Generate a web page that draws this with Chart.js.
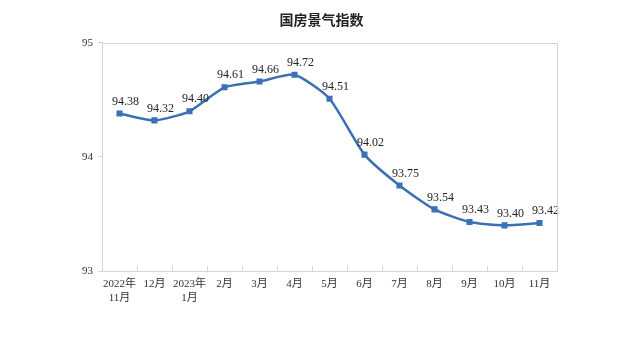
<!DOCTYPE html>
<html>
<head>
<meta charset="utf-8">
<script src="https://cdn.jsdelivr.net/npm/chart.js@4"></script>
<style>
  html, body { margin: 0; padding: 0; background: #fff; }
  #wrap { width: 643px; height: 344px; }
</style>
</head>
<body>
<div id="wrap"><canvas id="chart" width="643" height="344"></canvas></div>
<script>
// 月份
const months = [
    ['2022年', '11月'], '12月', ['2023年', '1月'], '2月', '3月', '4月',
    '5月', '6月', '7月', '8月', '9月', '10月', '11月'
];
// 国房景气指数
const indexValues = [94.38, 94.32, 94.40, 94.61, 94.66, 94.72, 94.51, 94.02, 93.75, 93.54, 93.43, 93.40, 93.42];
const yTicks = [93, 94, 95];

const serif = '"Liberation Serif", "Times New Roman", "Noto Sans CJK SC", serif';
const lineColor = '#3b6fb6';

// 画框（上、右边框）
const frame = {
    id: 'frame',
    afterDraw(chart) {
        const { ctx, chartArea: a } = chart;
        ctx.save();
        ctx.strokeStyle = '#d4d4d4';
        ctx.lineWidth = 1;
        ctx.strokeRect(Math.round(a.left) + 0.5, Math.round(a.top) + 0.5, Math.round(a.right - a.left), Math.round(a.bottom - a.top));
        ctx.restore();
    }
};

// 数据标签
const valueLabels = {
    id: 'valueLabels',
    afterDatasetsDraw(chart) {
        const { ctx } = chart;
        const meta = chart.getDatasetMeta(0);
        ctx.save();
        ctx.fillStyle = '#222';
        ctx.font = '12px ' + serif;
        ctx.textAlign = 'center';
        ctx.textBaseline = 'middle';
        meta.data.forEach((pt, i) => {
            ctx.fillText(indexValues[i].toFixed(2), pt.x + 6, pt.y - 12);
        });
        ctx.restore();
    }
};

new Chart(document.getElementById('chart'), {
    type: 'line',
    data: {
        labels: months,
        datasets: [{
            label: '国房景气指数',
            data: indexValues,
            borderColor: lineColor,
            backgroundColor: lineColor,
            borderWidth: 2.5,
            tension: 0.2,
            pointStyle: 'rect',
            pointRadius: 2.5,
            pointHoverRadius: 2.5
        }]
    },
    options: {
        responsive: false,
        animation: false,
        scales: {
            x: {
                offset: true,
                grid: {
                    offset: true,
                    drawOnChartArea: false,
                    tickLength: -5,
                    color: '#d4d4d4'
                },
                border: { color: '#d4d4d4' },
                ticks: {
                    color: '#333',
                    maxRotation: 0,
                    autoSkip: false,
                    padding: 12,
                    font: { family: serif, size: 11, lineHeight: 1.2 }
                },
                afterFit(scale) { scale.height = 73; }
            },
            y: {
                min: 93,
                max: 95,
                afterBuildTicks(scale) { scale.ticks = yTicks.map(v => ({ value: v })); },
                grid: {
                    drawOnChartArea: false,
                    tickLength: 4,
                    color: '#d4d4d4'
                },
                border: { color: '#d4d4d4' },
                ticks: {
                    color: '#333',
                    padding: 5,
                    font: { family: serif, size: 11 }
                },
                afterFit(scale) { scale.width = 102; }
            },
            // 右侧留白
            yRight: {
                position: 'right',
                min: 93,
                max: 95,
                grid: { display: false },
                border: { display: false },
                ticks: { display: false },
                afterFit(scale) { scale.width = 86; }
            }
        },
        plugins: {
            legend: { display: false },
            tooltip: { enabled: false },
            title: {
                display: true,
                text: '国房景气指数',
                color: '#222',
                font: { family: '"Noto Sans CJK SC", sans-serif', size: 14, weight: 'bold', lineHeight: 1.2 },
                padding: { top: 11, bottom: 15 }
            }
        }
    },
    plugins: [frame, valueLabels]
});
</script>
</body>
</html>
